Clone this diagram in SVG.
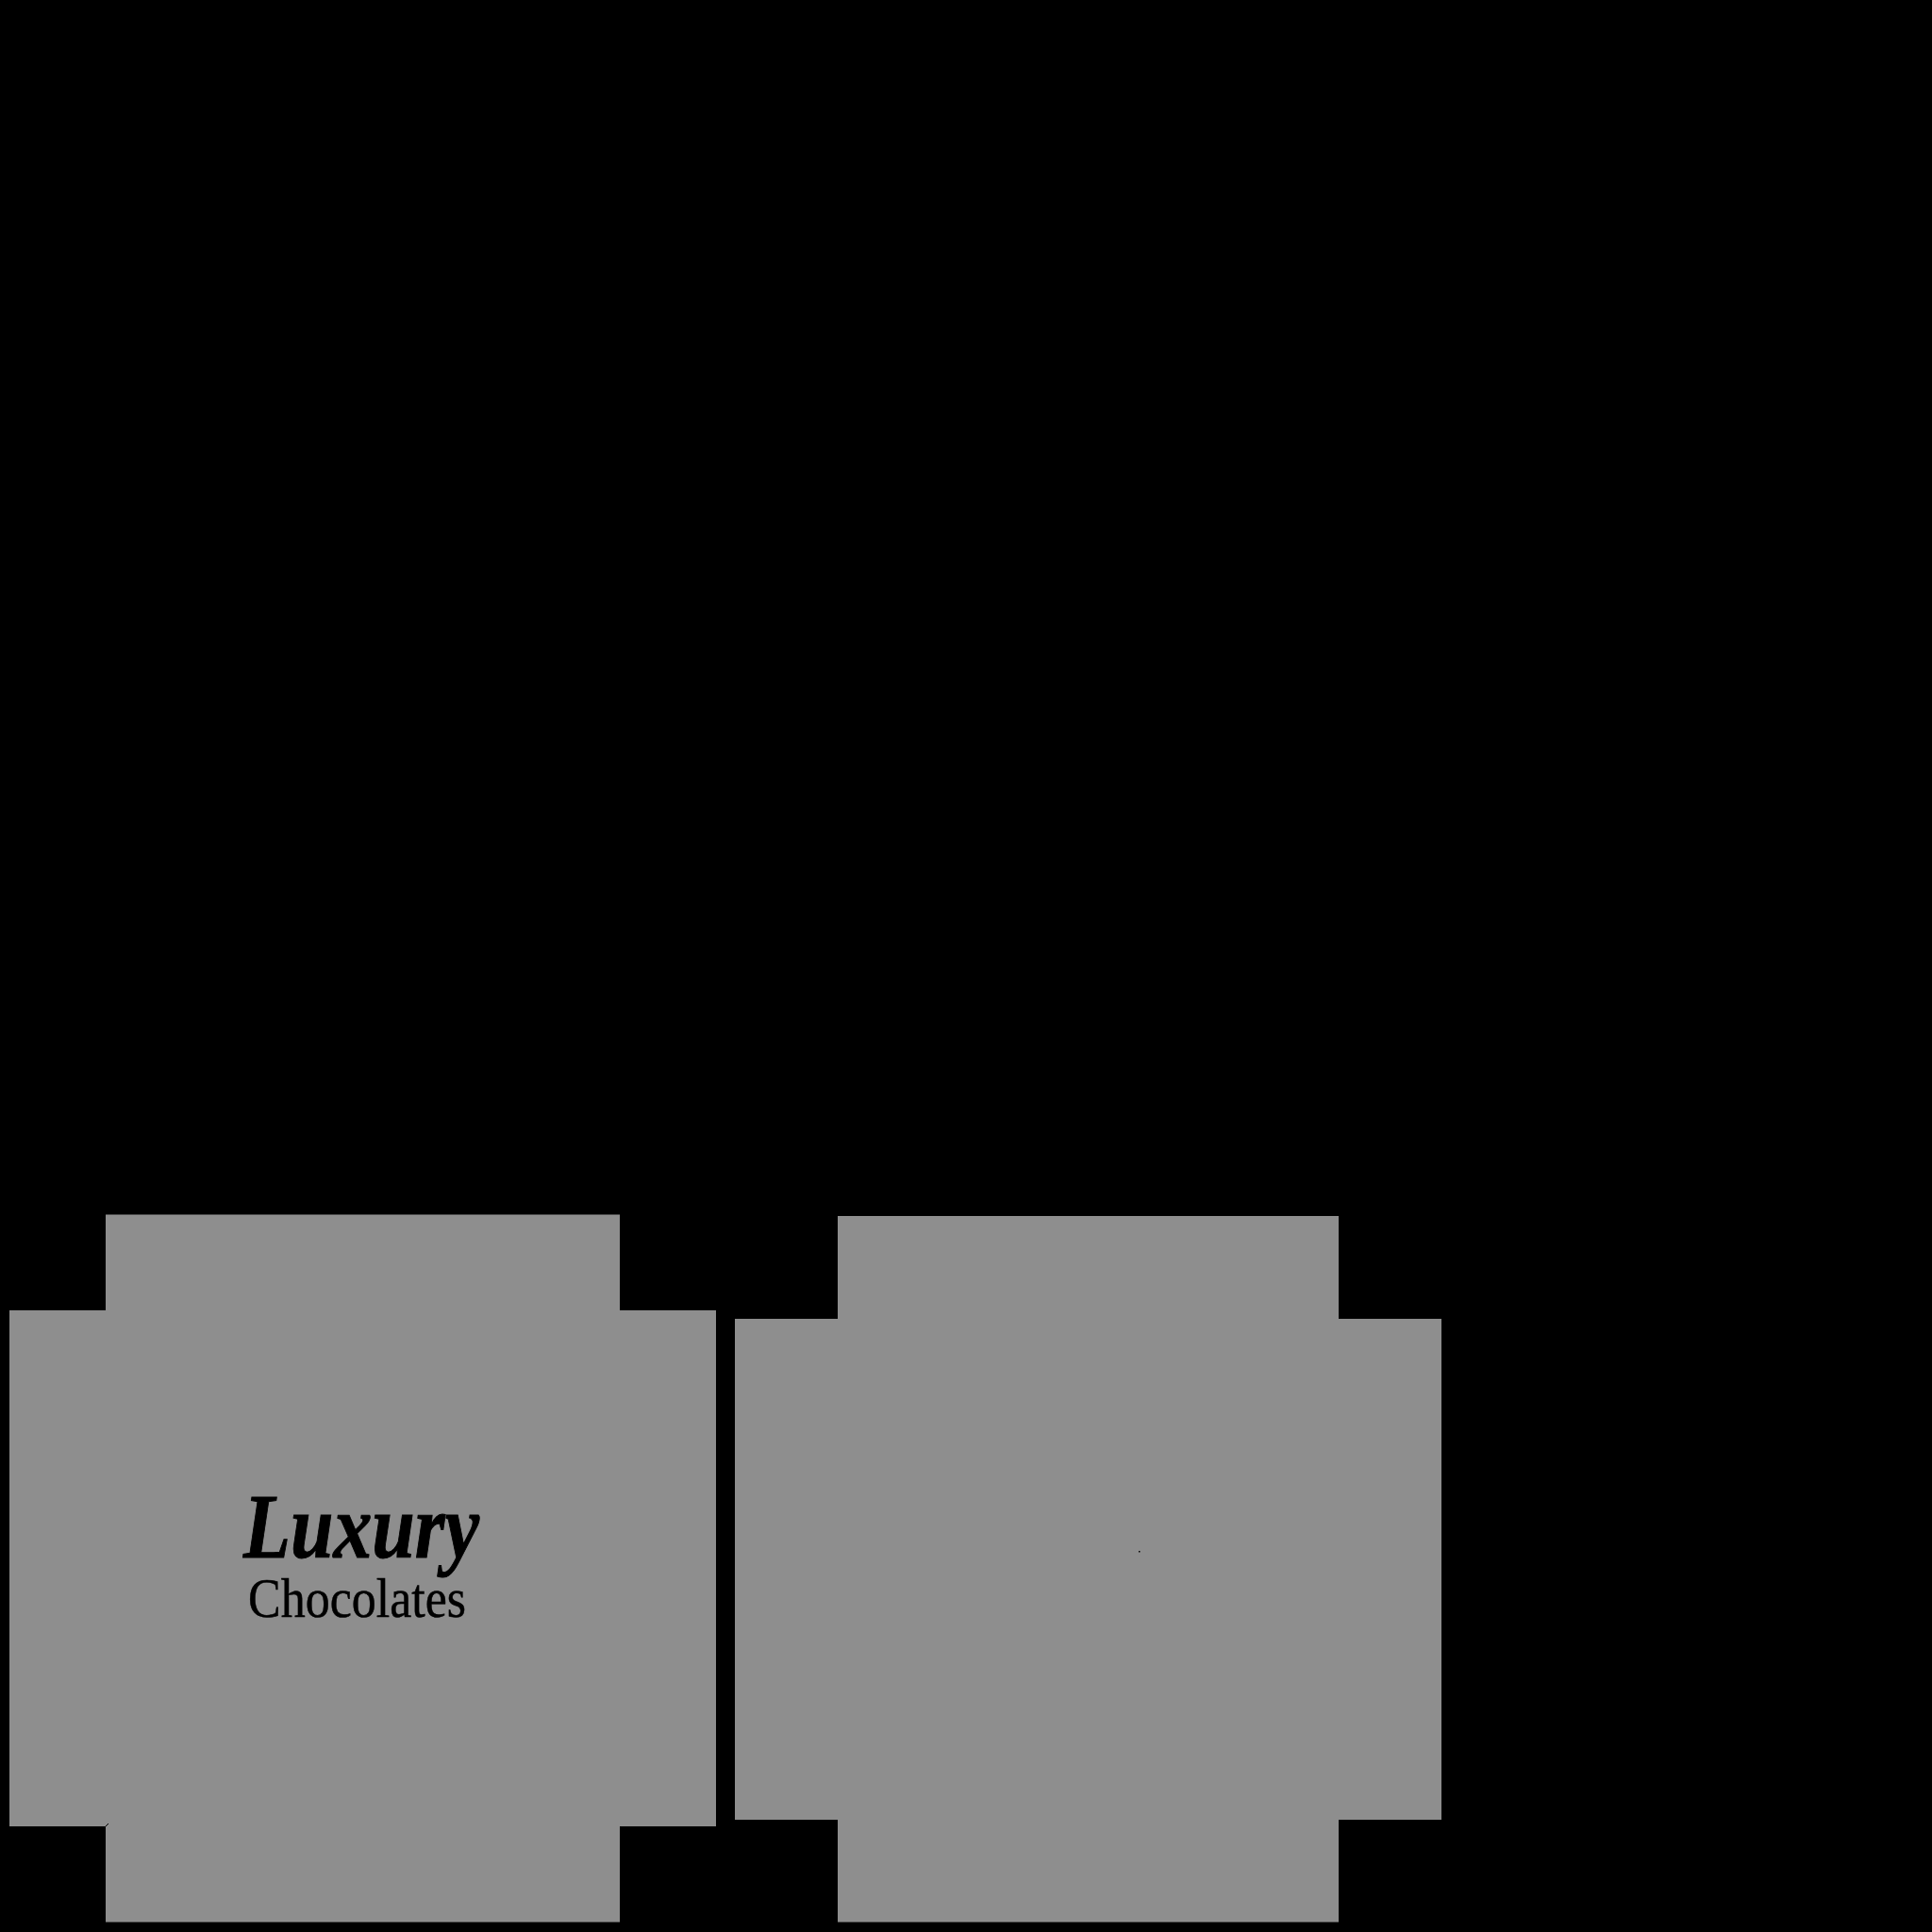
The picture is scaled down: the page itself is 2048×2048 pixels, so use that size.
<svg xmlns="http://www.w3.org/2000/svg" width="2048" height="2048" viewBox="0 0 2048 2048">
<style>
.panel{fill:#8e8e8e}
.t{font-family:"Liberation Serif","Times New Roman",serif;fill:#000}
</style>
<rect width="2048" height="2048" fill="#000"/>
<polygon class="panel" points="112,1287.5 657,1287.5 657,1389 759,1389 759,1936 657,1936 657,2037.5 112,2037.5 112,1936 10,1936 10,1389 112,1389"/>
<polygon class="panel" points="888,1289 1419,1289 1419,1398 1528,1398 1528,1929 1419,1929 1419,2037.5 888,2037.5 888,1929 779,1929 779,1398 888,1398"/>
<text class="t" x="258" y="1651" font-size="98" font-weight="700" font-style="italic" textLength="250" lengthAdjust="spacingAndGlyphs" stroke="#000" stroke-width="1">Luxury</text>
<text class="t" x="263" y="1714" font-size="60" textLength="231" lengthAdjust="spacingAndGlyphs" stroke="#000" stroke-width="0.5">Chocolates</text>
<rect x="1207" y="1644" width="1.5" height="1.5" fill="#000"/>
<path d="M112 1936l3-3" stroke="#000" stroke-width="1" fill="none"/>
</svg>
